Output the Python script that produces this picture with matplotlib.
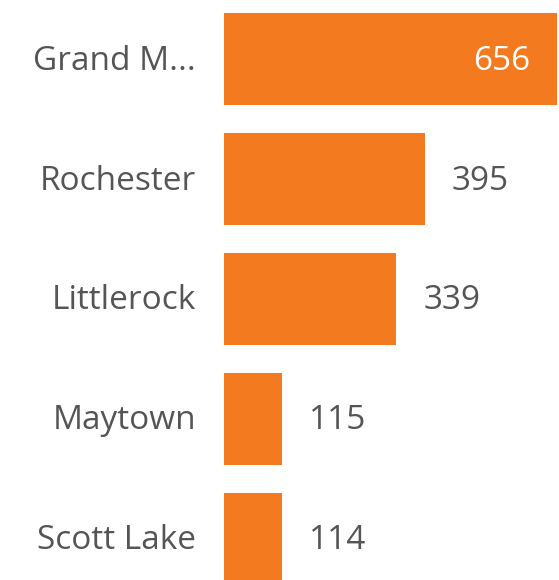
import matplotlib

matplotlib.use("Agg")

import matplotlib.pyplot as plt

towns = ["Grand M...", "Rochester", "Littlerock", "Maytown", "Scott Lake"]
counts = [656, 395, 339, 115, 114]

BAR_COLOR = "#F47A20"
TEXT_COLOR = "#555555"
FONT = ["Open Sans", "DejaVu Sans"]

fig = plt.figure(figsize=(5.59, 5.80), dpi=100)
ax = fig.add_axes([224 / 559, 0, 333 / 559, 1])

ypos = list(range(len(towns)))
ax.barh(ypos, counts, height=0.767, color=BAR_COLOR)
ax.set_xlim(0, max(counts))
ax.set_ylim(4.342, -0.492)
ax.axis("off")

for y, name, val in zip(ypos, towns, counts):
    ax.annotate(name, xy=(0, y), xytext=(-28, -2), textcoords="offset pixels",
                ha="right", va="center", fontsize=24, color=TEXT_COLOR, family=FONT)
    # the longest bar gets its value inside, the rest sit just past the bar end
    if val == max(counts):
        ax.annotate(str(val), xy=(val, y), xytext=(-27, -2), textcoords="offset pixels",
                    ha="right", va="center", fontsize=24, color="white", family=FONT)
    else:
        ax.annotate(str(val), xy=(val, y), xytext=(27, -2), textcoords="offset pixels",
                    ha="left", va="center", fontsize=24, color=TEXT_COLOR, family=FONT)

fig.savefig("out.png", dpi=100)
